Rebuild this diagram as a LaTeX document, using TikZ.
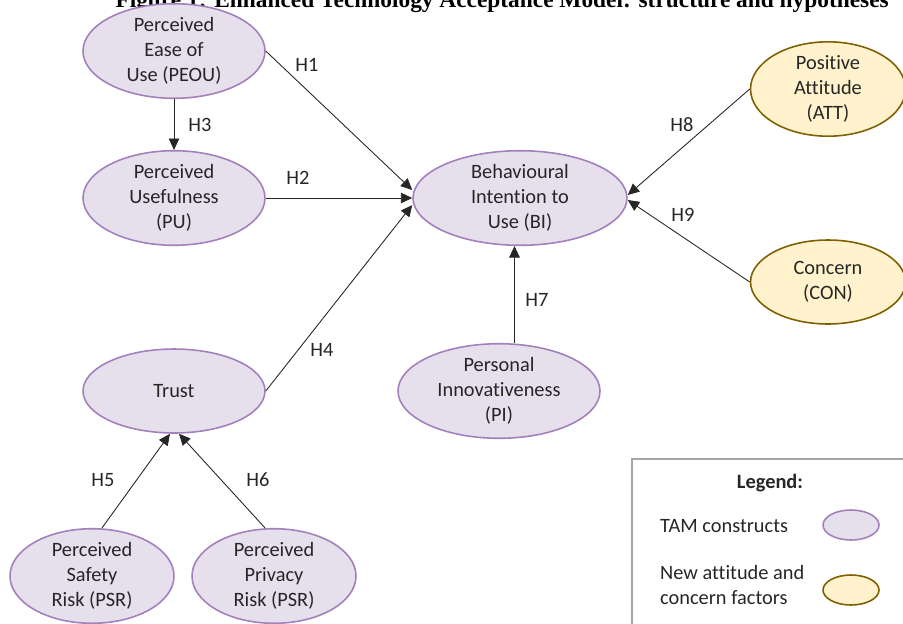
\documentclass[tikz,border=0pt]{standalone}
\usepackage{fontspec}
\setmainfont[Ligatures=NoCommon]{Carlito}
\newfontfamily\titlefont{Liberation Serif}
\usetikzlibrary{shapes.geometric,arrows.meta}
\definecolor{tamfill}{RGB}{229,224,236}
\definecolor{tamdraw}{RGB}{163,128,188}
\definecolor{newfill}{RGB}{255,242,204}
\definecolor{newdraw}{RGB}{127,96,0}
\definecolor{legendgray}{RGB}{166,166,166}

\begin{document}
\begin{tikzpicture}[x=0.02cm, y=-0.02cm,
    construct/.style={ellipse, draw=tamdraw, fill=tamfill, line width=0.9pt, inner sep=0pt,
        minimum width=3.64cm, minimum height=1.68cm, align=center,
        font=\fontsize{11.6}{14.2}\selectfont, text=black!85},
    factor/.style={construct, draw=newdraw, fill=newfill, minimum width=3.1cm},
    arr/.style={-{Triangle[length=6.5pt,width=6pt]}, draw=black!85, line width=0.5pt},
    hyp/.style={font=\fontsize{11.6}{14.2}\selectfont, text=black!85}]
    \useasboundingbox (0,0) rectangle (903,623);
    \clip (0,0) rectangle (903,623);

    % Title (cut at the top)
    \node[anchor=base east, font=\titlefont\bfseries\fontsize{13.3}{16}\selectfont] (title) at (895,7)
        {Figure 1: Enhanced Technology Acceptance Model: structure and hypotheses};

    % TAM constructs
    \node[construct] (peou) at (174,51) {Perceived\\Ease of\\Use (PEOU)};
    \node[construct] (pu) at (174,198) {Perceived\\Usefulness\\(PU)};
    \node[construct] (trust) at (174,391) {Trust};
    \node[construct, minimum width=4.28cm, minimum height=1.7cm] (bi) at (520,198) {Behavioural\\Intention to\\Use (BI)};
    \node[construct, minimum width=4.04cm] (pi) at (499,391) {Personal\\Innovativeness\\(PI)};
    \node[construct, minimum width=3.28cm] (psr) at (92,576) {Perceived\\Safety\\Risk (PSR)};
    \node[construct, minimum width=3.28cm] (ppr) at (274,576) {Perceived\\Privacy\\Risk (PSR)};

    % New attitude and concern factors
    \node[factor] (att) at (828,89) {Positive\\Attitude\\(ATT)};
    \node[factor] (con) at (828,282) {Concern\\(CON)};

    % Hypotheses
    \draw[arr] (peou.east) -- ([yshift=0.16cm]bi.west);
    \draw[arr] (pu.east) -- (bi.west);
    \draw[arr] (trust.east) -- ([yshift=-0.14cm]bi.west);
    \draw[arr] (peou.south) -- (pu.north);
    \draw[arr] ([xshift=0.2cm]psr.north) -- ([xshift=-0.08cm]trust.south);
    \draw[arr] ([xshift=-0.18cm]ppr.north) -- ([xshift=0.1cm]trust.south);
    \draw[arr] ([xshift=0.31cm]pi.north) -- ([xshift=-0.11cm]bi.south);
    \draw[arr] (att.west) -- ([yshift=0.06cm]bi.east);
    \draw[arr] (con.west) -- ([yshift=-0.04cm]bi.east);

    % Labels
    \node[hyp] (h1) at (307,65) {H1};
    \node[hyp] (h2) at (298,178) {H2};
    \node[hyp] (h3) at (200,125) {H3};
    \node[hyp] (h4) at (322,350) {H4};
    \node[hyp] (h5) at (103,480) {H5};
    \node[hyp] (h6) at (258,480) {H6};
    \node[hyp] (h7) at (537,300) {H7};
    \node[hyp] (h8) at (682,125) {H8};
    \node[hyp] (h9) at (683,215) {H9};

    % Legend
    \draw[draw=legendgray, line width=1pt] (632,459) rectangle (920,640);
    \node[hyp, font=\fontsize{11.6}{14.2}\selectfont\bfseries] (legend) at (770,483) {Legend:};
    \node[hyp, anchor=west] (tamtext) at (654,526) {TAM constructs};
    \node[hyp, anchor=west, align=left] (newtext) at (654,585) {New attitude and\\concern factors};
    \node[construct, minimum width=1.12cm, minimum height=0.6cm] (tamkey) at (851,525) {};
    \node[factor, minimum width=1.12cm, minimum height=0.6cm] (newkey) at (851,590) {};
\end{tikzpicture}
\end{document}
